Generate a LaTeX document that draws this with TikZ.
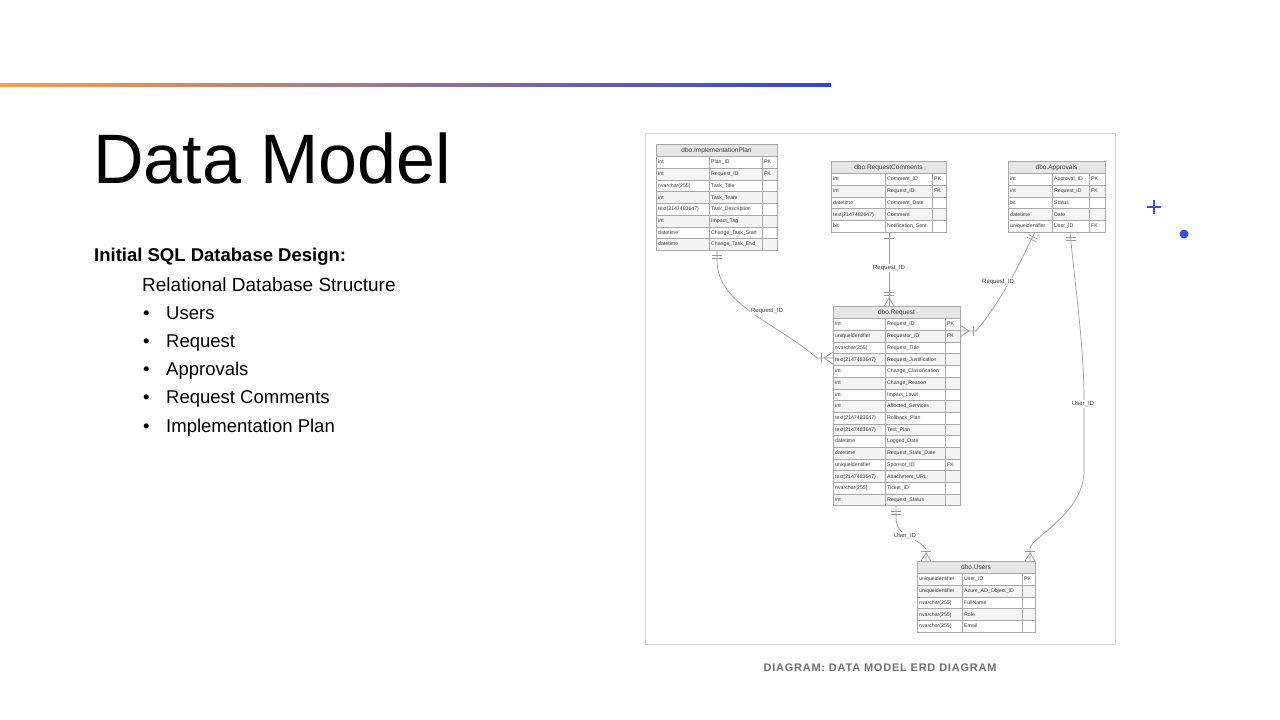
\documentclass[tikz,border=0pt]{standalone}
\usepackage{fontspec}
\setmainfont{Liberation Sans}
\usetikzlibrary{calc}
\definecolor{gOrange}{HTML}{F4A24A}
\definecolor{gPink}{HTML}{D98A9A}
\definecolor{gBlue}{HTML}{3344D6}
\definecolor{accBlue}{HTML}{3550E8}
\definecolor{frameGray}{HTML}{D6D6D6}
\definecolor{tabBorder}{HTML}{A8A8A8}
\definecolor{hdrFill}{HTML}{E6E6E6}
\definecolor{rowFill}{HTML}{F4F4F4}
\definecolor{txtGray}{HTML}{3A3A3A}
\definecolor{connGray}{HTML}{9A9A9A}
\definecolor{capGray}{HTML}{707070}
\tikzset{
  tabframe/.style={draw=tabBorder, line width=0.6pt, fill=white, inner sep=0pt, outer sep=0pt},
  gridline/.style={draw=tabBorder, line width=0.4pt},
  celltxt/.style={anchor=west, inner sep=0pt, text height=3.8pt, text depth=1.2pt, text=txtGray, font=\fontsize{5.2}{6}\selectfont},
  hdrtxt/.style={inner sep=0pt, text height=4.8pt, text depth=1.4pt, text=txtGray, font=\fontsize{6.5}{7.5}\selectfont},
  conn/.style={draw=connGray, line width=0.7pt},
  connlbl/.style={fill=white, inner sep=1pt, text=txtGray, font=\fontsize{6}{7}\selectfont},
  slidetxt/.style={anchor=base west, inner sep=0pt, text=black},
  bullettxt/.style={anchor=base west, inner sep=0pt, text=black, font=\fontsize{18.5}{22}\selectfont}
}
% #1 name, #2 x, #3 y, #4 w1, #5 w2, #6 w3, #7 title, #8 nrows, #9 rows
\newcommand{\erdtab}[9]{%
  \pgfmathsetmacro{\tw}{#4+#5+#6}%
  \pgfmathsetmacro{\th}{12.5+#8*11.7}%
  \node[tabframe, anchor=north west, minimum width=\tw pt, minimum height=\th pt] (#1) at (#2,#3) {};
  \fill[hdrFill] (#2,#3) rectangle ++(\tw,12.5);
  \node[hdrtxt] (#1-h) at (#2+\tw/2,#3+6.5) {#7};
  \foreach \ty/\nm/\ky [count=\i] in {#9} {
    \pgfmathsetmacro{\yy}{#3+12.5+(\i-1)*11.7}
    \ifodd\i\else \fill[rowFill] (#2,\yy) rectangle ++(\tw,11.7);\fi
    \node[celltxt] (#1-t\i) at (#2+2,\yy+6.1) {\ty};
    \node[celltxt] (#1-n\i) at (#2+#4+2,\yy+6.1) {\nm};
    \node[celltxt] (#1-k\i) at (#2+#4+#5+2,\yy+6.1) {\ky};
    \draw[gridline] (#2,\yy) -- ++(\tw,0);
  }
  \draw[gridline] (#2+#4,#3+12.5) -- (#2+#4,#3+\th);
  \draw[gridline] (#2+#4+#5,#3+12.5) -- (#2+#4+#5,#3+\th);
  \draw[draw=tabBorder, line width=0.6pt] (#1.north west) rectangle (#1.south east);
}
\begin{document}
\begin{tikzpicture}[x=1pt,y=-1pt]
\useasboundingbox (0,0) rectangle (1280,720);
\fill[white] (0,0) rectangle (1280,720);
% gradient rule
\shade[left color=gOrange, middle color=gPink, right color=gBlue] (0,83.6) rectangle (831,86.6);
% title
\node[slidetxt, font=\fontsize{70}{80}\selectfont] (title) at (93,183) {Data Model};
% left text
\node[slidetxt, font=\bfseries\fontsize{18.5}{22}\selectfont] (hd) at (94,261) {Initial SQL Database Design:};
\node[slidetxt, font=\fontsize{19}{22}\selectfont] (sub) at (142,291) {Relational Database Structure};
\foreach \txt [count=\k] in {Users,Request,Approvals,Request Comments,Implementation Plan} {
  \node[bullettxt] (b\k) at (143,{319+(\k-1)*28.3}) {\textbullet};
  \node[bullettxt] (it\k) at (166,{319+(\k-1)*28.3}) {\txt};
}
% decorative plus and dot
\draw[accBlue, line width=1.6pt] (1147,207) -- (1161,207) (1154,200) -- (1154,214);
\fill[accBlue] (1184,234) circle (4.5);
% ERD frame
\draw[frameGray, line width=0.8pt] (645,133) rectangle (1115,644);
% tables
\erdtab{ip}{656}{144}{53}{53}{15}{dbo.ImplementationPlan}{8}{int/Plan\_ID/PK,int/Request\_ID/FK,nvarchar(255)/Task\_Title/,int/Task\_Team/,text(2147483647)/Task\_Description/,int/Impact\_Tag/,datetime/Change\_Task\_Start/,datetime/Change\_Task\_End/}
\erdtab{rc}{831}{161}{54}{47}{14}{dbo.RequestComments}{5}{int/Comment\_ID/PK,int/Request\_ID/FK,datetime/Comment\_Date/,text(2147483647)/Comment/,bit/Notification\_Sent/}
\erdtab{ap}{1008}{161}{44}{37}{16}{dbo.Approvals}{5}{int/Approval\_ID/PK,int/Request\_ID/FK,bit/Status/,datetime/Date/,uniqueidentifier/User\_ID/FK}
\erdtab{rq}{833}{306}{52}{60}{15}{dbo.Request}{16}{int/Request\_ID/PK,uniqueidentifier/Requestor\_ID/FK,nvarchar(255)/Request\_Title/,text(2147483647)/Request\_Justification/,int/Change\_Classification/,int/Change\_Reason/,int/Impact\_Level/,int/Affected\_Services/,text(2147483647)/Rollback\_Plan/,text(2147483647)/Test\_Plan/,datetime/Logged\_Date/,datetime/Request\_State\_Date/,uniqueidentifier/Sponsor\_ID/FK,text(2147483647)/Attachment\_URL/,nvarchar(255)/Ticket\_ID/,int/Request\_Status/}
\erdtab{us}{917}{561}{45}{60}{13}{dbo.Users}{5}{uniqueidentifier/User\_ID/PK,uniqueidentifier/Azure\_AD\_Object\_ID/,nvarchar(255)/FullName/,nvarchar(255)/Role/,nvarchar(255)/Email/}
% connector end points
\coordinate (c1a) at ($(ip.south west)+(61,0)$);
\coordinate (c1b) at ($(rq.north west)+(0,52)$);
\coordinate (c2a) at ($(rc.south west)+(58,0)$);
\coordinate (c2b) at ($(rq.north west)+(56,0)$);
\coordinate (c3a) at ($(ap.south west)+(27,0)$);
\coordinate (c3b) at ($(rq.north east)+(0,25)$);
\coordinate (c4a) at ($(ap.south west)+(62,0)$);
\coordinate (c4b) at ($(us.north east)+(-5,0)$);
\coordinate (c5a) at ($(rq.south west)+(63,0)$);
\coordinate (c5b) at ($(us.north west)+(9,0)$);
% C1 ImplementationPlan -> Request
\draw[conn] (c1a) -- ++(0,10) .. controls +(0,45) and +(-40,-35) .. ($(c1b)+(-16,0)$) -- (c1b);
\draw[conn] ($(c1a)+(-5,5.5)$) -- ++(10,0) ($(c1a)+(-5,8.5)$) -- ++(10,0);
\draw[conn] ($(c1b)+(-12,-5)$) -- ++(0,10);
\draw[conn] ($(c1b)+(-9,0)$) -- ($(c1b)+(0,-6)$) ($(c1b)+(-9,0)$) -- ($(c1b)+(0,6)$);
\node[connlbl] (l1) at (767,311) {Request\_ID};
% C2 RequestComments -> Request
\draw[conn] (c2a) -- (c2b);
\draw[conn] ($(c2a)+(-5,6)$) -- ++(10,0);
\draw[conn] ($(c2b)+(-5,-14)$) -- ++(10,0) ($(c2b)+(-5,-11)$) -- ++(10,0);
\draw[conn] ($(c2b)+(0,-8)$) -- ($(c2b)+(-5,0)$) ($(c2b)+(0,-8)$) -- ($(c2b)+(5,0)$);
\node[connlbl] (l2) at (889,268) {Request\_ID};
% C3 Approvals -> Request
\draw[conn] (c3a) -- ++(-4.5,9) .. controls +(-12,25) and +(25,-30) .. ($(c3b)+(16,0)$) -- (c3b);
\draw[conn] ($(c3a)+(-6.5,2.6)$) -- ++(9,4.5) ($(c3a)+(-7.8,5.3)$) -- ++(9,4.5);
\draw[conn] ($(c3b)+(13,-5)$) -- ++(0,10);
\draw[conn] ($(c3b)+(9,0)$) -- ($(c3b)+(0,-6)$) ($(c3b)+(9,0)$) -- ($(c3b)+(0,6)$);
\node[connlbl] (l3) at (998,282) {Request\_ID};
% C4 Approvals -> Users
\draw[conn] (c4a) -- ++(1,10) .. controls +(6,60) and +(0,-50) .. (1084,400) -- (1084,470) .. controls +(0,45) and +(0,-12) .. ($(c4b)+(0,-12)$) -- (c4b);
\draw[conn] ($(c4a)+(-4.5,5.5)$) -- ++(10,0) ($(c4a)+(-4.3,8.5)$) -- ++(10,0);
\draw[conn] ($(c4b)+(-5,-10)$) -- ++(10,0);
\draw[conn] ($(c4b)+(0,-8)$) -- ($(c4b)+(-5,0)$) ($(c4b)+(0,-8)$) -- ($(c4b)+(5,0)$);
\node[connlbl] (l4) at (1083,404) {User\_ID};
% C5 Request -> Users
\draw[conn] (c5a) -- ++(0,12) .. controls +(0,20) and +(-8,-12) .. ($(c5b)+(0,-12)$) -- (c5b);
\draw[conn] ($(c5a)+(-5,5.5)$) -- ++(10,0) ($(c5a)+(-5,8.5)$) -- ++(10,0);
\draw[conn] ($(c5b)+(-5,-10)$) -- ++(10,0);
\draw[conn] ($(c5b)+(0,-8)$) -- ($(c5b)+(-5,0)$) ($(c5b)+(0,-8)$) -- ($(c5b)+(5,0)$);
\node[connlbl] (l5) at (905,536) {User\_ID};
% caption
\node[inner sep=0pt, text=capGray, font=\bfseries\fontsize{11}{13}\selectfont\addfontfeature{LetterSpace=7}] (cap) at (880,668) {DIAGRAM: DATA MODEL ERD DIAGRAM};
\end{tikzpicture}
\end{document}
